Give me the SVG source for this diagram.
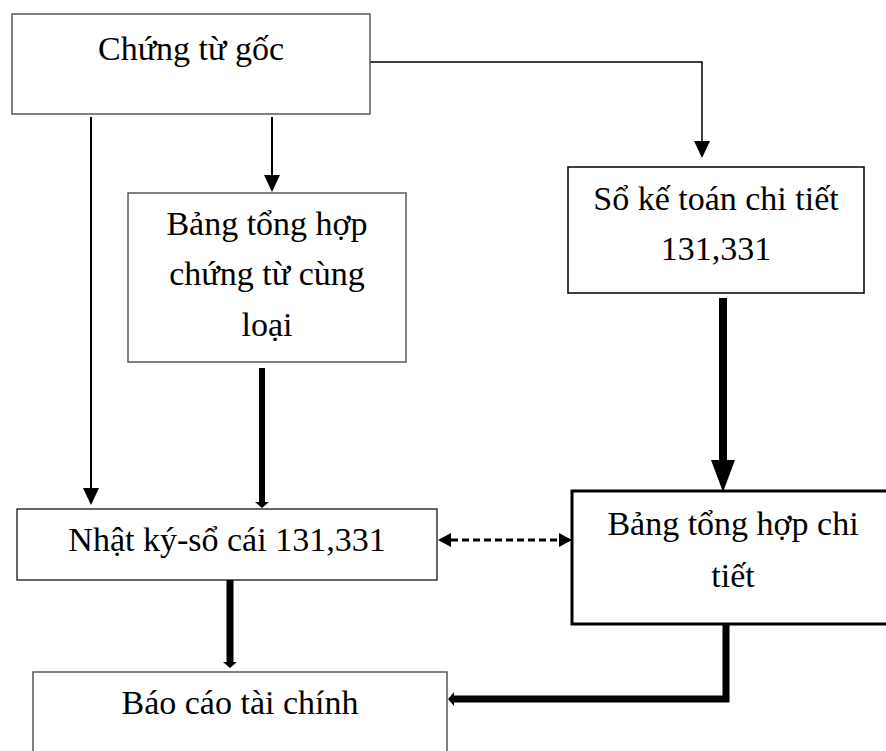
<svg xmlns="http://www.w3.org/2000/svg" width="886" height="751" viewBox="0 0 886 751">
  <style>
    .box { fill: #ffffff; }
    .gray { stroke: #5a5a5a; stroke-width: 1.5; }
    .dark { stroke: #000000; stroke-width: 1.5; }
    .bold { stroke: #000000; stroke-width: 3; }
    .label { font-family: "Liberation Serif", "Times New Roman", serif; font-size: 34px; fill: #000000; text-anchor: middle; }
    .thin { fill: none; stroke: #000000; stroke-width: 2; }
    .thick { fill: none; stroke: #000000; stroke-width: 7; stroke-linejoin: miter; }
    .dash { fill: none; stroke: #000000; stroke-width: 3; stroke-dasharray: 7 4; }
  </style>
  <defs>
    <marker id="headThin" markerUnits="userSpaceOnUse" viewBox="0 -8 17 16" refX="0" refY="0" markerWidth="17" markerHeight="16" orient="auto">
      <path d="M0,-8 L17,0 L0,8 z" fill="#000"/>
    </marker>
    <marker id="headSmall" markerUnits="userSpaceOnUse" viewBox="0 -7 6 14" refX="0" refY="0" markerWidth="6" markerHeight="14" orient="auto">
      <path d="M0,-7 L6,0 L0,7 z" fill="#000"/>
    </marker>
    <marker id="headBig" markerUnits="userSpaceOnUse" viewBox="0 -12 32 24" refX="0" refY="0" markerWidth="32" markerHeight="24" orient="auto">
      <path d="M0,-12 L32,0 L0,12 z" fill="#000"/>
    </marker>
    <marker id="headDash" markerUnits="userSpaceOnUse" viewBox="0 -7 13 14" refX="0" refY="0" markerWidth="13" markerHeight="14" orient="auto-start-reverse">
      <path d="M0,-7 L13,0 L0,7 z" fill="#000"/>
    </marker>
  </defs>

  <!-- connectors -->
  <g id="connectors">
    <path class="thin" d="M91,117 V488" marker-end="url(#headThin)"/>
    <path class="thin" d="M272,117 V175" marker-end="url(#headThin)"/>
    <path class="thin" style="stroke-width:1.5" d="M370,62 H702 V141" marker-end="url(#headThin)"/>
    <path class="thick" style="stroke-width:6" d="M262,368 V502" marker-end="url(#headSmall)"/>
    <path class="thick" style="stroke-width:8" d="M723,298 V460" marker-end="url(#headBig)"/>
    <path class="thick" d="M230,580 V662" marker-end="url(#headSmall)"/>
    <path class="thick" d="M726,624 V699 H454" marker-end="url(#headSmall)"/>
    <path class="dash" d="M451,540 H559" marker-start="url(#headDash)" marker-end="url(#headDash)"/>
  </g>

  <!-- source documents -->
  <g id="chung-tu-goc">
    <rect class="box gray" x="12" y="14" width="358" height="100"/>
    <text class="label" x="191" y="60">Chứng từ gốc</text>
  </g>

  <!-- summary of same-type documents -->
  <g id="bang-tong-hop-chung-tu">
    <rect class="box gray" x="128" y="193" width="278" height="169"/>
    <text class="label" x="267" y="235">Bảng tổng hợp</text>
    <text class="label" x="267" y="285">chứng từ cùng</text>
    <text class="label" x="267" y="336">loại</text>
  </g>

  <!-- detailed ledger -->
  <g id="so-ke-toan-chi-tiet">
    <rect class="box dark" x="568" y="167" width="296" height="126"/>
    <text class="label" x="716" y="210">Sổ kế toán chi tiết</text>
    <text class="label" x="716" y="260">131,331</text>
  </g>

  <!-- journal / general ledger -->
  <g id="nhat-ky-so-cai">
    <rect class="box dark" style="stroke-width:1.2" x="17" y="509" width="420" height="71"/>
    <text class="label" x="227" y="551">Nhật ký-sổ cái 131,331</text>
  </g>

  <!-- detailed summary -->
  <g id="bang-tong-hop-chi-tiet">
    <rect class="box bold" x="572" y="491" width="330" height="133"/>
    <text class="label" x="733" y="535">Bảng tổng hợp chi</text>
    <text class="label" x="733" y="587">tiết</text>
  </g>

  <!-- financial statements -->
  <g id="bao-cao-tai-chinh">
    <rect class="box gray" x="33" y="672" width="414" height="100"/>
    <text class="label" x="240" y="714">Báo cáo tài chính</text>
  </g>
</svg>
